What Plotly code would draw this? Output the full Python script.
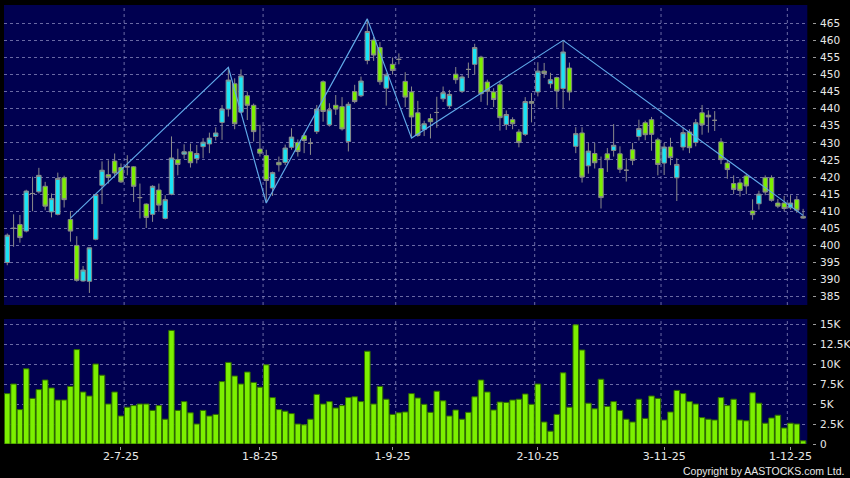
import plotly.graph_objects as go

# ---------------- data ----------------
opens = [395.0, 405.0, 406.1, 404.2, 415.2, 415.7, 417.3, 409.8, 409.1, 419.8,
         407.6, 400.0, 389.6, 389.5, 401.8, 417.6, 420.7, 424.7, 422.8, 423.0,
         423.0, 414.0, 412.1, 409.1, 416.2, 407.9, 415.0, 425.1, 426.7, 427.4,
         425.4, 428.9, 429.7, 431.9, 436.0, 439.9, 447.3, 439.0, 443.8, 441.0,
         428.2, 426.3, 416.8, 424.3, 424.3, 428.7, 430.1, 432.1, 429.9, 433.3,
         447.9, 435.3, 441.0, 440.6, 430.4, 445.0, 443.8, 454.1, 460.1, 457.9,
         446.0, 453.0, 454.5, 448.0, 444.9, 438.8, 433.9, 437.1, 438.9, 442.9,
         440.8, 450.1, 445.1, 451.5, 453.0, 455.1, 447.8, 444.9, 447.0, 435.4,
         436.8, 433.2, 432.5, 442.1, 444.9, 451.0, 447.3, 449.1, 445.9, 451.9,
         429.0, 432.9, 423.3, 426.9, 422.5, 426.8, 427.8, 426.8, 422.0, 428.0,
         431.9, 435.9, 436.8, 430.9, 424.1, 428.8, 419.8, 428.8, 433.2, 430.1,
         438.8, 438.1, 436.6, 430.3, 424.1, 418.1, 418.3, 420.3, 410.1, 412.2,
         419.8, 419.8, 412.4, 412.4, 411.0, 413.4, 408.5]
highs = [403.5, 409.1, 408.9, 416.3, 420.1, 422.7, 418.6, 415.2, 421.3, 420.4,
         410.0, 402.7, 394.0, 399.3, 415.0, 424.6, 424.9, 426.9, 424.0, 426.4,
         423.2, 418.1, 412.3, 417.6, 418.1, 414.7, 431.9, 428.3, 429.6, 429.8,
         429.4, 431.4, 433.0, 434.6, 441.1, 452.1, 448.9, 451.5, 445.0, 441.5,
         435.3, 428.0, 421.6, 426.0, 429.5, 434.3, 431.0, 433.0, 431.4, 441.1,
         448.3, 441.6, 444.0, 443.4, 442.0, 447.0, 449.4, 466.3, 461.0, 459.5,
         450.5, 455.0, 456.2, 450.7, 446.5, 442.3, 436.5, 438.5, 443.5, 446.5,
         445.5, 452.2, 449.8, 453.5, 459.0, 455.5, 448.5, 446.0, 448.0, 439.5,
         437.5, 434.0, 443.4, 444.6, 453.6, 453.4, 450.5, 449.4, 460.0, 453.5,
         434.6, 434.6, 430.0, 430.0, 426.0, 428.5, 435.5, 429.0, 425.5, 430.0,
         436.8, 436.5, 437.6, 431.5, 430.0, 431.5, 425.5, 434.5, 434.0, 437.0,
         441.1, 439.5, 439.3, 431.4, 425.0, 420.5, 419.5, 421.0, 413.5, 416.0,
         420.5, 420.5, 413.6, 414.5, 414.7, 414.5, 410.7]
lows = [394.2, 399.6, 400.8, 403.8, 410.0, 415.2, 410.3, 408.2, 408.8, 411.1,
        401.1, 389.4, 389.4, 386.1, 401.5, 412.1, 418.1, 420.1, 418.3, 420.5,
        412.7, 407.9, 405.1, 406.9, 409.8, 407.6, 414.7, 420.5, 425.4, 422.8,
        424.0, 425.5, 427.0, 430.7, 430.9, 437.7, 434.0, 438.7, 436.7, 430.4,
        426.0, 412.4, 414.5, 421.6, 423.5, 428.0, 426.0, 427.0, 426.5, 432.6,
        436.2, 434.8, 438.2, 433.6, 427.5, 441.6, 443.4, 453.0, 454.0, 447.0,
        440.9, 450.0, 453.0, 440.5, 431.4, 431.8, 432.0, 431.3, 434.4, 442.0,
        440.0, 447.3, 444.6, 449.0, 450.0, 442.0, 441.0, 440.5, 433.6, 433.8,
        434.0, 428.7, 432.0, 436.0, 443.6, 449.0, 446.0, 440.3, 440.2, 442.4,
        427.0, 418.4, 421.0, 422.5, 410.8, 421.5, 426.0, 421.2, 418.7, 423.5,
        430.7, 430.8, 427.7, 420.5, 420.6, 423.5, 413.0, 427.8, 427.0, 429.0,
        432.4, 433.0, 433.5, 423.8, 419.5, 415.0, 414.3, 415.0, 407.5, 410.5,
        414.7, 412.8, 410.9, 410.0, 410.5, 409.5, 407.8]
closes = [403.0, 405.0, 402.3, 415.9, 415.2, 420.5, 411.5, 413.7, 419.6, 413.4,
          404.2, 389.8, 392.8, 399.3, 414.9, 422.0, 419.9, 421.2, 418.6, 423.0,
          417.3, 414.0, 408.2, 417.3, 411.8, 413.4, 425.6, 423.7, 427.4, 424.2,
          426.9, 430.2, 431.4, 432.9, 439.9, 448.4, 435.6, 449.6, 441.0, 433.3,
          427.0, 419.0, 421.3, 423.6, 428.5, 431.7, 427.5, 430.7, 429.9, 439.9,
          439.2, 439.7, 439.9, 434.1, 441.3, 442.1, 448.1, 462.6, 455.7, 447.9,
          449.9, 451.2, 454.4, 443.4, 437.6, 432.2, 435.6, 436.2, 438.9, 444.7,
          444.2, 448.5, 449.3, 451.5, 457.9, 444.4, 445.1, 442.7, 437.4, 438.3,
          435.6, 430.1, 442.1, 441.6, 451.0, 450.3, 448.5, 445.2, 456.6, 444.9,
          432.7, 420.0, 427.6, 424.2, 414.0, 425.1, 429.3, 422.3, 422.0, 424.9,
          434.2, 432.4, 432.5, 423.7, 428.8, 425.7, 423.7, 433.0, 428.6, 435.9,
          435.3, 437.6, 436.6, 425.1, 422.2, 416.4, 416.1, 417.4, 409.0, 415.0,
          415.6, 413.2, 411.5, 410.8, 412.4, 410.3, 408.0]
volumes_k = [6.3, 7.5, 4.3, 9.4, 5.7, 6.8, 8.0, 7.0, 5.5, 5.5,
             7.2, 11.8, 6.5, 6.0, 10.0, 8.6, 5.0, 6.5, 3.5, 4.6,
             4.8, 5.0, 5.0, 4.2, 4.8, 3.1, 14.2, 4.2, 5.3, 3.9,
             2.5, 4.2, 3.5, 3.7, 7.8, 10.2, 8.5, 7.5, 9.0, 7.7,
             7.1, 9.9, 5.8, 4.3, 4.1, 3.8, 2.5, 2.4, 3.1, 6.2,
             5.0, 5.3, 4.5, 4.8, 5.8, 5.9, 5.3, 11.6, 5.0, 7.2,
             5.6, 3.7, 3.9, 4.0, 6.3, 5.75, 4.96, 3.96, 6.6, 5.4,
             3.5, 4.25, 3.1, 3.96, 5.9, 8.0, 6.5, 4.25, 5.25, 5.2,
             5.5, 5.6, 6.25, 4.96, 7.5, 2.75, 1.6, 3.7, 8.9, 4.6,
             14.9, 11.75, 5.1, 4.4, 8.1, 4.7, 5.3, 4.2, 3.1, 2.75,
             5.6, 3.2, 6.0, 5.7, 3.0, 4.0, 6.7, 6.3, 5.3, 5.0,
             3.3, 3.1, 3.0, 5.8, 4.8, 5.6, 3.0, 2.9, 6.4, 5.1,
             2.6, 3.25, 3.6, 2.0, 2.6, 2.5, 0.4]
tick_idx = [18, 40, 61, 84, 104, 124]
tick_labels = ["2-7-25", "1-8-25", "1-9-25", "2-10-25", "3-11-25", "1-12-25"]
zz_idx = [10, 35, 41, 57, 64, 88, 126]
zz_val = [408.0, 452.1, 412.4, 466.3, 431.4, 460.0, 408.8]
price_ticks = [385, 390, 395, 400, 405, 410, 415, 420, 425, 430,
               435, 440, 445, 450, 455, 460, 465]
vol_ticks = [0, 2500, 5000, 7500, 10000, 12500, 15000]
vol_tick_labels = ["0", "2.5K", "5K", "7.5K", "10K", "12.5K", "15K"]

n = len(opens)
xs = list(range(n))
volumes = [v * 1000 for v in volumes_k]

# ---------------- styling ----------------
W, H = 850, 478
ML, MR, MT, MB = 4, 38, 5, 32
paper_w = W - ML - MR
paper_h = H - MT - MB
BG = "#000050"
CYAN = "#19e3f5"
GREEN = "#7cf000"
OUTLINE = "#8a8a8a"
GRID = "rgba(150,150,200,0.7)"
TXT = "#e8e8e8"
FONT = "DejaVu Sans"
YFONT = dict(family=FONT, size=10.5, color=TXT)

def py(pix):  # pixel row -> paper y
    return (H - MB - pix) / paper_h

xdom_end = (807.3 - ML) / paper_w
price_dom = [py(305), 1.0]
vol_dom = [py(444), py(319)]

fig = go.Figure()
fig.add_trace(go.Candlestick(
    x=xs, open=opens, high=highs, low=lows, close=closes,
    increasing=dict(fillcolor=CYAN, line=dict(color=OUTLINE, width=1)),
    decreasing=dict(fillcolor=GREEN, line=dict(color=OUTLINE, width=1)),
    whiskerwidth=0, xaxis="x", yaxis="y", hoverinfo="skip", showlegend=False))
fig.add_trace(go.Scatter(
    x=zz_idx, y=zz_val, mode="lines", line=dict(color="#5fa8e8", width=1.2),
    xaxis="x", yaxis="y", hoverinfo="skip", showlegend=False))
fig.add_trace(go.Bar(
    x=xs, y=volumes, marker=dict(color=GREEN, line=dict(color="#2f6a00", width=1)),
    xaxis="x2", yaxis="y2", hoverinfo="skip", showlegend=False))

grid_x = [18.5, 40.5, 61.5, 83.5, 103.5, 123.5]
shapes = []
for g in grid_x:
    for yr in ("y domain", "y2 domain"):
        shapes.append(dict(type="line", xref="x", yref=yr, x0=g, x1=g, y0=0, y1=1,
                           line=dict(color=GRID, width=1, dash="3px,3px"), layer="below"))

xr = [-0.52, 126.66]
fig.update_layout(
    width=W, height=H,
    margin=dict(l=ML, r=MR, t=MT, b=MB, pad=0, autoexpand=False),
    paper_bgcolor="#000000", plot_bgcolor=BG,
    showlegend=False, boxgap=0.3, boxgroupgap=0, bargap=0.12,
    font=dict(family=FONT, size=11, color=TXT),
    shapes=shapes,
    xaxis=dict(domain=[0, xdom_end], anchor="y", range=xr, showticklabels=False,
               showgrid=False, zeroline=False, rangeslider=dict(visible=False),
               ticks=""),
    xaxis2=dict(domain=[0, xdom_end], anchor="free", position=0, matches="x", range=xr,
                tickmode="array", tickvals=tick_idx, ticktext=tick_labels,
                ticks="outside", ticklen=3, tickcolor="#9a9a9a", showgrid=False,
                zeroline=False, tickfont=dict(family=FONT, size=11, color=TXT),
                ticklabelstandoff=-3),
    yaxis=dict(domain=price_dom, anchor="free", position=1.0, side="right",
               range=[382.57, 470.35], tickmode="array", tickvals=price_ticks,
               ticks="outside", ticklen=3, tickcolor="#9a9a9a",
               showgrid=True, gridcolor=GRID, griddash="3px,3px", gridwidth=1,
               zeroline=False, tickfont=YFONT, ticklabelstandoff=2),
    yaxis2=dict(domain=vol_dom, anchor="free", position=1.0, side="right",
                range=[0, 15625], tickmode="array", tickvals=vol_ticks,
                ticktext=vol_tick_labels, ticks="outside", ticklen=3,
                tickcolor="#9a9a9a", showgrid=True, gridcolor=GRID,
                griddash="3px,3px", gridwidth=1, zeroline=False,
                tickfont=YFONT, ticklabelstandoff=2),
    annotations=[dict(text="Copyright by AASTOCKS.com Ltd.", xref="paper", yref="paper",
                      x=(846 - ML) / paper_w, y=py(471), xanchor="right", yanchor="middle",
                      showarrow=False,
                      font=dict(family="Liberation Sans", size=10.5, color=TXT))],
)

fig.write_html("out.html",
               config={"displayModeBar": False, "staticPlot": True},
               post_script="document.body.style.margin='0';"
                           "document.body.style.overflow='hidden';")
